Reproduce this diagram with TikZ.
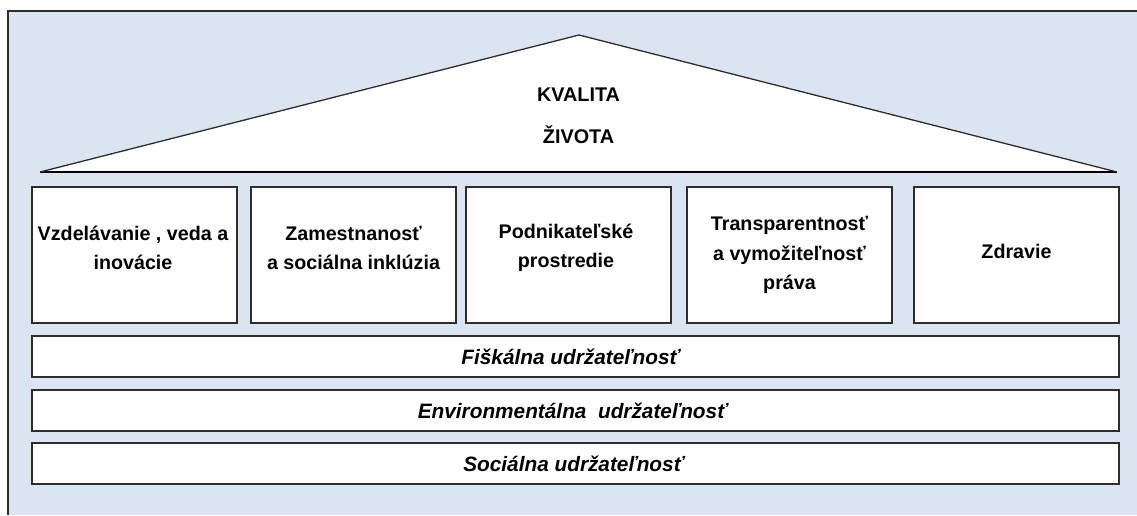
\documentclass[tikz,border=0pt]{standalone}
\usepackage{fontspec}
\setmainfont{Liberation Sans}
\definecolor{bgblue}{RGB}{219,229,241}
\definecolor{edge}{RGB}{45,45,45}
\definecolor{baseline}{RGB}{120,120,120}
\begin{document}
\begin{tikzpicture}[x=1pt,y=-1pt,
  pillar/.style={draw=edge,line width=1.3pt,fill=white,minimum width=205pt,minimum height=136pt,inner sep=0pt},
  bar/.style={draw=edge,line width=1.3pt,fill=white,minimum width=1087pt,minimum height=41pt,inner sep=0pt},
  ptext/.style={font=\fontsize{19.7}{29.5}\selectfont\bfseries,align=center,inner sep=0pt},
  btext/.style={font=\fontsize{20.8}{23}\selectfont\bfseries\itshape,inner sep=0pt},
  rtext/.style={font=\fontsize{19.8}{23}\selectfont\bfseries,inner sep=0pt}]
\useasboundingbox (0,0) rectangle (1137,515);
\fill[white] (0,0) rectangle (1137,515);
\fill[bgblue] (8,11) rectangle (1137,515);
\draw[edge,line width=1.3pt] (8,515) -- (8,11) -- (1137,11);
% roof
\coordinate (apex) at (579,35);
\coordinate (bl) at (40,172);
\coordinate (br) at (1117,172);
\fill[white] (bl) -- (apex) -- (br) -- cycle;
\draw[baseline,line width=2.4pt] (bl) -- (br);
\draw[edge,line width=1.3pt,line join=round] (bl) -- (apex) -- (br);
\node[rtext] (kval) at (578.5,95) {KVALITA};
\node[rtext] (ziv) at (578.5,135) {ŽIVOTA};
% pillars
\node[pillar] (p1) at (134.5,255) {};
\node[pillar] (p2) at (353.5,255) {};
\node[pillar] (p3) at (568.5,255) {};
\node[pillar] (p4) at (789.5,255) {};
\node[pillar] (p5) at (1016.5,255) {};
\node[ptext] (t1) at (133,248) {Vzdelávanie , veda a\\inovácie};
\node[ptext] (t2) at (353.5,248) {Zamestnanosť\\a sociálna inklúzia};
\node[ptext] (t3) at (566,248) {Podnikateľské\\prostredie};
\node[ptext] (t4) at (789.5,255) {Transparentnosť\\a vymožiteľnosť\\práva};
\node[ptext] (t5) at (1016.5,251) {Zdravie};
% foundation bars
\node[bar] (b1) at (575.5,356.5) {};
\node[bar] (b2) at (575.5,410.5) {};
\node[bar] (b3) at (575.5,463.5) {};
\node[btext] (bt1) at ([xshift=-5pt]b1.center) {Fiškálna udržateľnosť};
\node[btext] (bt2) at ([xshift=-3pt]b2.center) {Environmentálna\ \ udržateľnosť};
\node[btext] (bt3) at ([xshift=-2pt]b3.center) {Sociálna udržateľnosť};
\end{tikzpicture}
\end{document}
